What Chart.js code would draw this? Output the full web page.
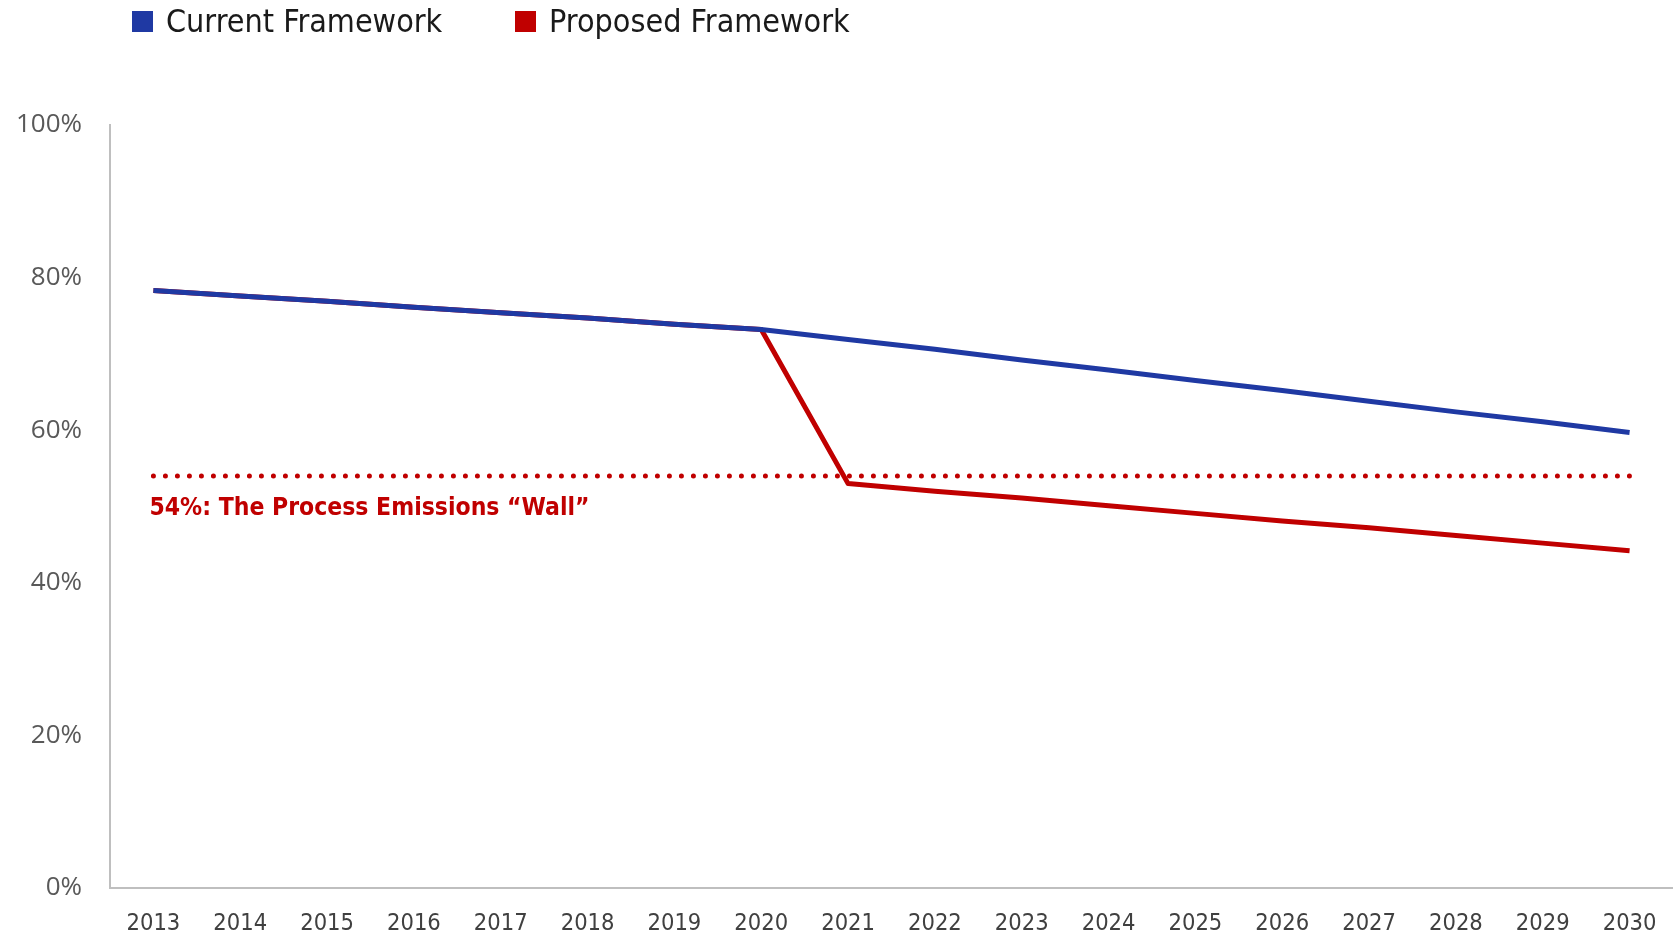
<!DOCTYPE html>
<html>
<head>
<meta charset="utf-8">
<script src="https://cdn.jsdelivr.net/npm/chart.js@4/dist/chart.umd.min.js"></script>
<style>
  html, body { margin: 0; padding: 0; background: #ffffff; }
  #wrap { width: 1673px; height: 938px; position: relative; }
</style>
</head>
<body>
<div id="wrap"><canvas id="c" width="1673" height="938"></canvas></div>
<script>
// Years on the category axis
const years = ['2013','2014','2015','2016','2017','2018','2019','2020','2021',
               '2022','2023','2024','2025','2026','2027','2028','2029','2030'];

// Share of emissions (%) under each framework
const currentFramework  = [78.3, 77.6, 76.9, 76.1, 75.4, 74.7, 73.9, 73.2, 71.9,
                           70.6, 69.2, 67.9, 66.5, 65.2, 63.8, 62.4, 61.1, 59.7];
const proposedFramework = [78.3, 77.6, 76.9, 76.1, 75.4, 74.7, 73.9, 73.2, 53.0,
                           52.0, 51.1, 50.1, 49.1, 48.1, 47.2, 46.2, 45.2, 44.2];

// Process emissions floor (%)
const wallLevel = 54;
const wallLine = years.map(() => wallLevel);
const wallLabel = wallLevel + '%: The Process Emissions \u201CWall\u201D';

// Y axis ticks
const yTicks = [0, 20, 40, 60, 80, 100];

const seriesNames = ['Current Framework', 'Proposed Framework'];
const BLUE = '#1F39A3';
const RED = '#C00000';
const NARROW = '"Liberation Sans Narrow", "DejaVu Sans Condensed", "Open Sans", sans-serif';

// Legend drawn along the top-left
const legendPlugin = {
  id: 'topLegend',
  afterDraw(chart) {
    const ctx = chart.ctx;
    const items = [
      { text: seriesNames[0], color: BLUE, x: 132 },
      { text: seriesNames[1], color: RED, x: 515 }
    ];
    ctx.save();
    ctx.font = '32px ' + NARROW;
    ctx.textBaseline = 'middle';
    ctx.textAlign = 'left';
    items.forEach(it => {
      ctx.fillStyle = it.color;
      ctx.fillRect(it.x, 11, 21, 21);
      ctx.fillStyle = '#1a1a1a';
      ctx.fillText(it.text, it.x + 34, 24);
    });
    ctx.restore();
  }
};

// Caption under the dotted wall line
const wallLabelPlugin = {
  id: 'wallLabel',
  afterDatasetsDraw(chart) {
    const ctx = chart.ctx;
    const x = chart.scales.x.getPixelForValue(0) - 4;
    const y = chart.scales.y.getPixelForValue(wallLevel) + 33;
    ctx.save();
    ctx.font = 'bold 24.5px ' + NARROW;
    ctx.fillStyle = RED;
    ctx.textAlign = 'left';
    ctx.textBaseline = 'middle';
    ctx.fillText(wallLabel, x, y);
    ctx.restore();
  }
};

new Chart(document.getElementById('c'), {
  type: 'line',
  data: {
    labels: years,
    datasets: [
      {
        label: seriesNames[0],
        data: currentFramework,
        borderColor: BLUE,
        backgroundColor: BLUE,
        borderWidth: 5,
        pointRadius: 0,
        tension: 0,
        borderJoinStyle: 'round'
      },
      {
        label: seriesNames[1],
        data: proposedFramework,
        borderColor: RED,
        backgroundColor: RED,
        borderWidth: 5,
        pointRadius: 0,
        tension: 0,
        borderJoinStyle: 'round'
      },
      {
        label: 'wall',
        data: wallLine,
        borderColor: RED,
        borderWidth: 5,
        borderDash: [0, 12],
        borderCapStyle: 'round',
        pointRadius: 0,
        tension: 0
      }
    ]
  },
  options: {
    responsive: false,
    animation: false,
    events: [],
    layout: { padding: { top: 125, right: 0, bottom: 0, left: 0 } },
    plugins: {
      legend: { display: false },
      tooltip: { enabled: false },
      title: { display: false }
    },
    scales: {
      x: {
        offset: true,
        grid: { display: false, drawTicks: false },
        border: { display: true, color: '#BFBFBF', width: 2 },
        ticks: {
          padding: 22,
          color: '#404040',
          font: { family: NARROW, size: 23.5 },
          maxRotation: 0,
          autoSkip: false
        },
        afterFit(scale) {
          scale.height = 50;
          scale.paddingLeft = 0;
          scale.paddingRight = 0;
        }
      },
      y: {
        min: 0,
        max: 100,
        grid: { display: false, drawTicks: false },
        border: { display: true, color: '#BFBFBF', width: 2 },
        afterBuildTicks(scale) { scale.ticks = yTicks.map(v => ({ value: v })); },
        ticks: {
          padding: 28,
          color: '#595959',
          font: { family: '"Open Sans", sans-serif', size: 26 },
          callback: v => v + '%'
        },
        afterFit(scale) { scale.width = 110; }
      }
    }
  },
  plugins: [legendPlugin, wallLabelPlugin]
});
</script>
</body>
</html>
